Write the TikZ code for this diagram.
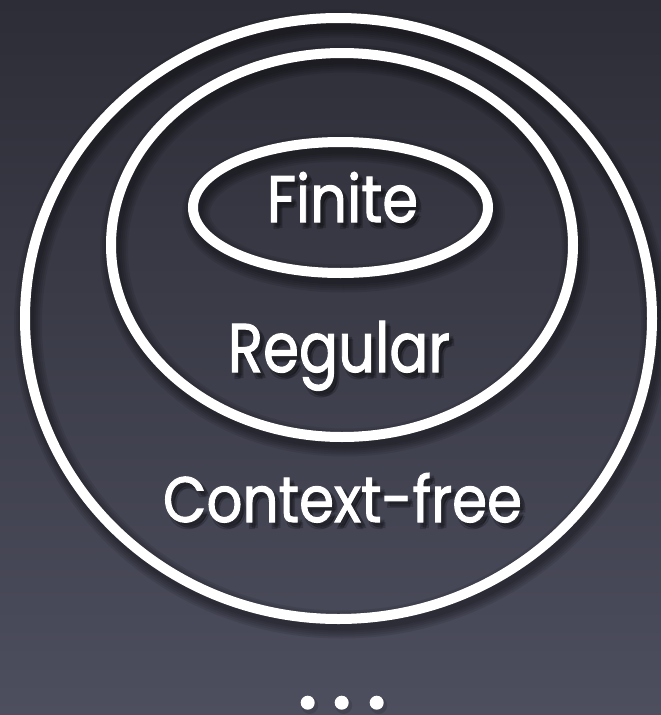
\documentclass[tikz,border=0pt]{standalone}
\usepackage{fontspec}
\setmainfont{Poppins}
\newfontfamily\wordfont{Poppins}[FakeBold=1.6]
\begin{document}
\begin{tikzpicture}[x=1pt,y=-1pt,
  ring/.style={draw=white,line width=10pt},
  ringshade/.style={draw=black,draw opacity=0.085},
  word/.style={text=white,inner sep=0pt,anchor=base,font=\wordfont},
  wordshade/.style={text=black,text opacity=0.13,inner sep=0pt,anchor=base,font=\wordfont},
  dot/.style={fill=white,draw=none},
]
\useasboundingbox (0,0) rectangle (661,715);
% backdrop
\shade[top color={rgb,255:red,45;green,45;blue,55},
       bottom color={rgb,255:red,77;green,78;blue,94}] (0,0) rectangle (661,715);

% soft shadows under the rings
\foreach \w in {12,16,20,24,28}{
  \draw[ringshade,line width=\w pt] (341.5,324) ellipse [x radius=313.5,y radius=300.5];
  \draw[ringshade,line width=\w pt] (345,250.5) ellipse [x radius=231,y radius=192];
  \draw[ringshade,line width=\w pt] (343.5,213) ellipse [x radius=147.5,y radius=65.5];
}
% the three nested classes
\draw[ring] (338.5,318.5) ellipse [x radius=313.5,y radius=300.5];
\draw[ring] (342,245) ellipse [x radius=231,y radius=192];
\draw[ring] (340.5,207.5) ellipse [x radius=147.5,y radius=65.5];

% text shadows
\foreach \dx/\dy in {0/0,2/1,-1/2,1/-1.5}{
  \node[wordshade] at (346+\dx,226.5+\dy) {\resizebox{151pt}{50pt}{Finite}};
  \node[wordshade] at (342.5+\dx,376.5+\dy) {\resizebox{222pt}{51pt}{Regular}};
  \node[wordshade] at (346+\dx,526.5+\dy) {\resizebox{359pt}{49pt}{Context-free}};
}
\node[word] (fin) at (342.5,222) {\resizebox{151pt}{50pt}{Finite}};
\node[word] (reg) at (339,372) {\resizebox{222pt}{51pt}{Regular}};
\node[word] (cfg) at (342.5,522) {\resizebox{359pt}{49pt}{Context-free}};

% ellipsis below
\foreach \x/\n in {307.7/d1,341.7/d2,376.7/d3}{
  \fill[black,opacity=0.12] (\x+2,705.5) circle (8.5);
  \node[dot,circle,minimum size=14pt,inner sep=0pt] (\n) at (\x,702.7) {};
}
\end{tikzpicture}
\end{document}
